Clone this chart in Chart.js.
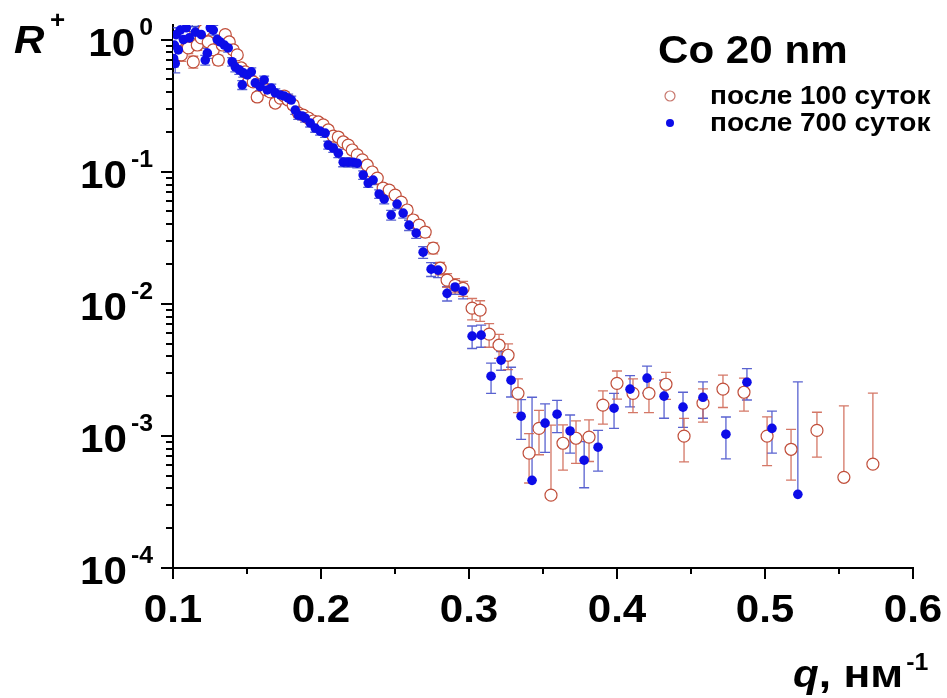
<!DOCTYPE html>
<html><head><meta charset="utf-8">
<script src="https://cdn.jsdelivr.net/npm/chart.js@4.4.1/dist/chart.umd.min.js"></script>
<style>html,body{margin:0;padding:0;background:#fff;}#wrap{position:relative;width:947px;height:698px;}</style>
</head><body><div id="wrap"><canvas id="c" width="947" height="698"></canvas></div>
<script>
// ---- data: после 700 суток (blue, filled) ----
const qBlue = [0.1004,0.1009,0.1015,0.1022,0.1036,0.1049,0.1070,0.1090,0.1110,0.1130,0.1151,0.1171,0.1191,0.1218,0.1232,0.1252,0.1272,0.1299,0.1319,0.1347,0.1373,0.1400,0.1421,0.1448,0.1468,0.1475,0.1502,0.1529,0.1556,0.1589,0.1616,0.1637,0.1664,0.1691,0.1725,0.1752,0.1778,0.1799,0.1826,0.1846,0.1873,0.1893,0.1927,0.1961,0.1994,0.2028,0.2049,0.2083,0.2117,0.2150,0.2184,0.2218,0.2245,0.2285,0.2319,0.2352,0.2393,0.2427,0.2474,0.2514,0.2555,0.2595,0.2643,0.2690,0.2744,0.2791,0.2852,0.2906,0.2960,0.3021,0.3082,0.3149,0.3217,0.3284,0.3352,0.3426,0.3514,0.3595,0.3683,0.3778,0.3872,0.3980,0.4088,0.4203,0.4318,0.4446,0.4581,0.4736,0.4878,0.5047,0.5222];
const rBlue = [0.72,0.91,0.66,1.09,0.836,1.18,1.0,1.23,1.03,1.4,1.14,1.4,1.09,0.70,0.79,1.23,1.18,1.0,0.96,0.91,0.865,0.68,0.62,0.59,0.454,0.56,0.54,0.57,0.47,0.44,0.495,0.416,0.43,0.395,0.381,0.374,0.361,0.349,0.293,0.268,0.264,0.255,0.234,0.214,0.203,0.196,0.159,0.151,0.138,0.118,0.118,0.118,0.116,0.0944,0.082,0.0865,0.0678,0.0621,0.047,0.0569,0.0486,0.0394,0.0343,0.0246,0.0183,0.0180,0.0120,0.0134,0.0125,0.00569,0.00579,0.00283,0.00374,0.00264,0.00141,0.000461,0.00125,0.00146,0.00109,0.000655,0.000821,0.00162,0.00226,0.00274,0.00200,0.00165,0.00196,0.00103,0.00255,0.00114,0.000361];
const errBlue = [0.1,0.12,0.1,0.14,0.11,0.15,0.12,0.15,0.12,0.15,0.12,0.15,0.1,0.06,0.07,0.1,0.1,0.08,0.07,0.07,0.06,0.05,0.05,0.045,0.035,0.04,0.04,0.04,0.035,0.03,0.035,0.03,0.03,0.028,0.027,0.026,0.025,0.025,0.021,0.019,0.018,0.018,0.016,0.015,0.014,0.014,0.011,0.011,0.01,0.009,0.009,0.009,0.009,0.007,0.006,0.0065,0.005,0.005,0.004,0.0045,0.004,0.0035,0.003,0.0025,0.0022,0.0022,0.0015,0.0016,0.0016,0.0011,0.0011,0.00073,0.0006,0.00067,0.00047,0.0015,0.0005,0.0004,0.00035,0.00025,0.00028,0.00048,0.0006,0.00063,0.00064,0.00049,0.0006,0.00036,0.00068,0.0004,0.0022];

// ---- data: после 100 суток (red, open) ----
const qRed = [0.1016,0.1036,0.1056,0.1077,0.1103,0.1137,0.1164,0.1191,0.1211,0.1238,0.1272,0.1306,0.1333,0.1353,0.1380,0.1407,0.1434,0.1461,0.1488,0.1515,0.1542,0.1569,0.1603,0.1630,0.1657,0.1691,0.1725,0.1752,0.1778,0.1812,0.1846,0.1880,0.1914,0.1947,0.1981,0.2015,0.2049,0.2083,0.2117,0.2150,0.2184,0.2211,0.2245,0.2279,0.2312,0.2346,0.2380,0.2420,0.2461,0.2501,0.2542,0.2582,0.2623,0.2663,0.2704,0.2758,0.2805,0.2852,0.2906,0.2960,0.3021,0.3075,0.3136,0.3203,0.3264,0.3331,0.3406,0.3473,0.3554,0.3635,0.3723,0.3811,0.3905,0.4000,0.4108,0.4216,0.4331,0.4453,0.4581,0.4716,0.4858,0.5014,0.5176,0.5351,0.5533,0.5729];
const rRed = [0.836,1.0,0.766,1.09,0.865,0.678,0.91,1.03,1.18,0.96,0.836,0.70,0.91,1.09,0.96,0.836,0.766,0.61,0.57,0.495,0.478,0.368,0.446,0.416,0.402,0.331,0.361,0.374,0.349,0.32,0.279,0.268,0.255,0.242,0.238,0.226,0.207,0.186,0.183,0.168,0.159,0.146,0.134,0.123,0.112,0.0995,0.0895,0.0752,0.0726,0.0665,0.0589,0.0513,0.0431,0.0394,0.0349,0.0264,0.0186,0.0151,0.0138,0.0131,0.00927,0.00895,0.00589,0.00486,0.00408,0.0021,0.00074,0.00114,0.000356,0.00088,0.00096,0.00098,0.00171,0.0025,0.0021,0.0021,0.00246,0.000995,0.00177,0.00226,0.00214,0.000995,0.000792,0.0011,0.000486,0.000611];
const errRed = [0.09,0.1,0.08,0.1,0.08,0.07,0.08,0.09,0.1,0.08,0.07,0.06,0.07,0.08,0.07,0.06,0.055,0.045,0.04,0.035,0.035,0.027,0.032,0.03,0.029,0.024,0.026,0.027,0.025,0.023,0.02,0.019,0.018,0.017,0.017,0.016,0.015,0.013,0.013,0.012,0.011,0.01,0.0095,0.009,0.008,0.007,0.0065,0.0055,0.0055,0.005,0.0045,0.004,0.0035,0.0032,0.003,0.0025,0.002,0.0018,0.0017,0.0017,0.0017,0.0016,0.0012,0.001,0.0009,0.0006,0.0003,0.00042,0.00085,0.00033,0.00034,0.00034,0.00048,0.0006,0.0006,0.0006,0.00057,0.00036,0.0005,0.00062,0.0006,0.0004,0.00033,0.00041,0.0012,0.0015];

// ---- axes / text ----
const xTickValues = [0.1, 0.2, 0.3, 0.4, 0.5, 0.6];
const xTickLabels = ['0.1', '0.2', '0.3', '0.4', '0.5', '0.6'];
const yTickExponents = [-4, -3, -2, -1, 0];
const seriesNames = ['после 100 суток', 'после 700 суток'];
const legendTitle = 'Co 20 nm';

const FAM = '"Liberation Sans", Arial, sans-serif';
const SX = 1.08;
const RED = 'rgb(192,78,58)';
const REDBAR = 'rgba(205,95,75,0.85)';
const BLUE = 'rgb(12,12,232)';
const BLUEBAR = 'rgba(60,70,200,0.85)';

function txt(ctx, text, x, y, font, align, sx) {
  const k = sx || SX;
  ctx.save();
  ctx.font = font;
  const w = ctx.measureText(text).width * k;
  let left = x;
  if (align === 'right') left = x - w; else if (align === 'center') left = x - w / 2;
  ctx.translate(left, y);
  ctx.scale(k, 1);
  ctx.textAlign = 'left';
  ctx.textBaseline = 'alphabetic';
  ctx.fillStyle = '#000';
  ctx.fillText(text, 0, 0);
  ctx.restore();
  return w;
}
function width(ctx, text, font) { ctx.save(); ctx.font = font; const w = ctx.measureText(text).width * SX; ctx.restore(); return w; }

const errorBars = {
  id: 'errorBars',
  beforeDatasetsDraw(chart) {
    const { ctx, chartArea: ca, scales: { x, y } } = chart;
    ctx.save();
    ctx.beginPath(); ctx.rect(ca.left, ca.top, ca.right - ca.left, ca.bottom - ca.top); ctx.clip();
    chart.data.datasets.forEach(ds => {
      ctx.strokeStyle = ds.errColor; ctx.lineWidth = 1.3;
      ds.data.forEach((p, i) => {
        const e = ds.errors[i];
        const px = x.getPixelForValue(p.x);
        const pc = y.getPixelForValue(p.y);
        const pt = y.getPixelForValue(p.y + e);
        const low = p.y - e > 0;
        const pb = low ? y.getPixelForValue(p.y - e) : pc;
        ctx.beginPath();
        ctx.moveTo(px, pt); ctx.lineTo(px, pb);
        ctx.moveTo(px - 5, pt); ctx.lineTo(px + 5, pt);
        if (low) { ctx.moveTo(px - 5, pb); ctx.lineTo(px + 5, pb); }
        ctx.stroke();
      });
    });
    ctx.restore();
  }
};

const decor = {
  id: 'decor',
  afterDraw(chart) {
    const { ctx, chartArea: ca, scales: { x, y } } = chart;
    ctx.save();
    ctx.strokeStyle = '#000'; ctx.lineWidth = 2;
    yTickExponents.forEach(e => {
      for (let m = 1; m <= 9; m++) {
        const v = m * Math.pow(10, e);
        if (v > y.max) break;
        const py = Math.round(y.getPixelForValue(v));
        const len = m === 1 ? 12 : 7;
        ctx.beginPath(); ctx.moveTo(ca.left - len, py); ctx.lineTo(ca.left, py); ctx.stroke();
      }
    });
    xTickValues.forEach((v, i) => {
      const px = Math.round(x.getPixelForValue(v));
      ctx.beginPath(); ctx.moveTo(px, ca.bottom); ctx.lineTo(px, ca.bottom + 11); ctx.stroke();
      if (i < xTickValues.length - 1) {
        const pm = Math.round(x.getPixelForValue((v + xTickValues[i + 1]) / 2));
        ctx.beginPath(); ctx.moveTo(pm, ca.bottom); ctx.lineTo(pm, ca.bottom + 6); ctx.stroke();
      }
    });
    ctx.restore();

    const big = 'bold 39px ' + FAM;
    const sup = 'bold 23px ' + FAM;
    yTickExponents.forEach(e => {
      const py = y.getPixelForValue(Math.pow(10, e));
      const R = 153;
      const s = String(e);
      const ws = width(ctx, s, sup);
      txt(ctx, s, R, py - 5, sup, 'right');
      txt(ctx, '10', R - ws - 4, py + 16, big, 'right');
    });
    xTickValues.forEach((v, i) => {
      const px = x.getPixelForValue(v);
      txt(ctx, xTickLabels[i], px, ca.bottom + 54, big, 'center');
    });
    txt(ctx, 'R', 14, 53, 'italic bold 39px ' + FAM, 'left');
    txt(ctx, '+', 50, 28, 'bold 24px ' + FAM, 'left');
    let xx = 793;
    xx += txt(ctx, 'q', xx, 687, 'italic bold 39px ' + FAM, 'left');
    xx += txt(ctx, ', нм', xx, 687, big, 'left', 1.14);
    txt(ctx, '-1', xx + 3, 670, sup, 'left');

    txt(ctx, legendTitle, 658, 63, big, 'left');
    ctx.save();
    ctx.beginPath(); ctx.arc(670, 96, 5, 0, Math.PI * 2);
    ctx.fillStyle = '#fff'; ctx.fill();
    ctx.strokeStyle = 'rgb(200,120,110)'; ctx.lineWidth = 1.2; ctx.stroke();
    ctx.beginPath(); ctx.arc(670, 123, 4, 0, Math.PI * 2);
    ctx.fillStyle = BLUE; ctx.fill();
    ctx.restore();
    const lf = 'bold 25px ' + FAM;
    txt(ctx, seriesNames[0], 710, 104, lf, 'left', 1.12);
    txt(ctx, seriesNames[1], 710, 131, lf, 'left', 1.12);
  }
};

new Chart(document.getElementById('c'), {
  type: 'scatter',
  data: {
    datasets: [
      {
        label: seriesNames[1],
        data: qBlue.map((q, i) => ({ x: q, y: rBlue[i] })),
        errors: errBlue, errColor: BLUEBAR,
        showLine: false, pointRadius: 4.8, pointHoverRadius: 4.8,
        pointBackgroundColor: BLUE, pointBorderColor: BLUE, pointBorderWidth: 0,
        order: 0
      },
      {
        label: seriesNames[0],
        data: qRed.map((q, i) => ({ x: q, y: rRed[i] })),
        errors: errRed, errColor: REDBAR,
        showLine: false, pointRadius: 6, pointHoverRadius: 6,
        pointBackgroundColor: '#fff', pointBorderColor: RED, pointBorderWidth: 1.2,
        order: 1
      }
    ]
  },
  options: {
    responsive: false, animation: false,
    layout: { padding: { top: 25, right: 34, left: 0, bottom: 0 } },
    plugins: { legend: { display: false }, tooltip: { enabled: false }, title: { display: false } },
    scales: {
      x: {
        type: 'linear', min: 0.1, max: 0.6,
        grid: { display: false },
        border: { display: true, color: '#000', width: 2 },
        ticks: { display: false },
        afterFit(s) { s.height = 130; }
      },
      y: {
        type: 'logarithmic', min: 1e-4, max: 1.29,
        grid: { display: false },
        border: { display: true, color: '#000', width: 2 },
        ticks: { display: false },
        afterFit(s) { s.width = 173; }
      }
    }
  },
  plugins: [errorBars, decor]
});
</script>
</body></html>
